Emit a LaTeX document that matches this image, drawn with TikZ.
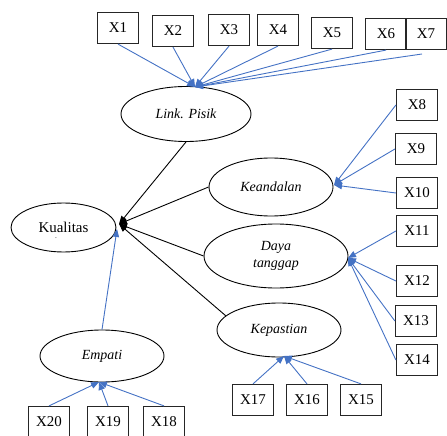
\documentclass[tikz,border=0pt]{standalone}
\usepackage{fontspec}
\setmainfont{Liberation Serif}
\usetikzlibrary{shapes.geometric,arrows.meta}
\definecolor{lblue}{HTML}{4472C4}
\begin{document}
\begin{tikzpicture}[x=1bp,y=-1bp,
  ind/.style={draw=black!85,line width=1.2bp,minimum width=41bp,minimum height=31bp,inner sep=0pt,font=\fontsize{15}{17}\selectfont},
  lat/.style={draw=black,line width=0.9pt,ellipse,inner sep=0pt,font=\fontsize{14}{17}\selectfont\itshape,align=center},
  barrow/.style={draw=lblue,line width=0.9pt,-{Triangle[length=8pt,width=6.5pt]}},
  karrow/.style={draw=black,line width=0.9pt,-{Triangle[length=8pt,width=6.5pt]}}]
\useasboundingbox (0,0) rectangle (447,436);
% latent variables
\node[lat,minimum width=130bp,minimum height=55bp] (link) at (186,114) {Link. Pisik};
\node[lat,minimum width=124bp,minimum height=58bp] (kea) at (271,187) {Keandalan};
\node[lat,minimum width=105bp,minimum height=49bp,font=\fontsize{15}{17}\selectfont] (kua) at (63.5,227.5) {Kualitas};
\node[font=\fontsize{5}{6}\selectfont] (kdot) at (56,239) {-};
\node[lat,minimum width=144bp,minimum height=64bp] (daya) at (276,256) {Daya\\tanggap};
\node[lat,minimum width=124bp,minimum height=54bp] (kep) at (279,330) {Kepastian};
\node[lat,minimum width=124bp,minimum height=52bp] (emp) at (102,356) {Empati};
% indicators
\node[ind] (x1) at (118,28) {X1};
\node[ind] (x2) at (173,31) {X2};
\node[ind] (x3) at (229,30) {X3};
\node[ind] (x4) at (278,30) {X4};
\node[ind] (x5) at (332,33) {X5};
\node[ind] (x6) at (386,34) {X6};
\node[ind] (x7) at (426,34) {X7};
\node[ind] (x8) at (417,105) {X8};
\node[ind] (x9) at (416,149) {X9};
\node[ind] (x10) at (417,193) {X10};
\node[ind] (x11) at (417,231) {X11};
\node[ind] (x12) at (417,281) {X12};
\node[ind] (x13) at (416,321) {X13};
\node[ind] (x14) at (417,360) {X14};
\node[ind] (x15) at (361,400) {X15};
\node[ind] (x16) at (307,400) {X16};
\node[ind] (x17) at (253,400) {X17};
\node[ind] (x18) at (164,422) {X18};
\node[ind] (x19) at (108,422) {X19};
\node[ind] (x20) at (49,422) {X20};
% tip coordinates
\coordinate (lt) at (195,87);
\coordinate (kt) at (334,185);
\coordinate (dt) at (348,258);
\coordinate (kpt) at (284,356);
\coordinate (et) at (99,382);
\coordinate (qt) at (119,224);
\coordinate (qe) at (117,229);
\coordinate (x7s) at (422,54);
% blue arrows
\foreach \n in {x1,x2,x3,x4,x5,x6} \draw[barrow] (\n.south) -- (lt);
\draw[barrow] (x7s) -- (lt);
\foreach \n in {x8,x9,x10} \draw[barrow] (\n.west) -- (kt);
\foreach \n in {x11,x12,x13,x14} \draw[barrow] (\n.west) -- (dt);
\foreach \n in {x15,x16,x17} \draw[barrow] (\n.north) -- (kpt);
\foreach \n in {x18,x19,x20} \draw[barrow] (\n.north) -- (et);
\draw[barrow] (emp.north) -- (qe);
% black arrows
\draw[karrow] (link.south) -- (qt);
\draw[karrow] (kea.west) -- (qt);
\draw[karrow] (daya.west) -- (qt);
\draw[karrow] (kep.165) -- (qt);
\end{tikzpicture}
\end{document}
